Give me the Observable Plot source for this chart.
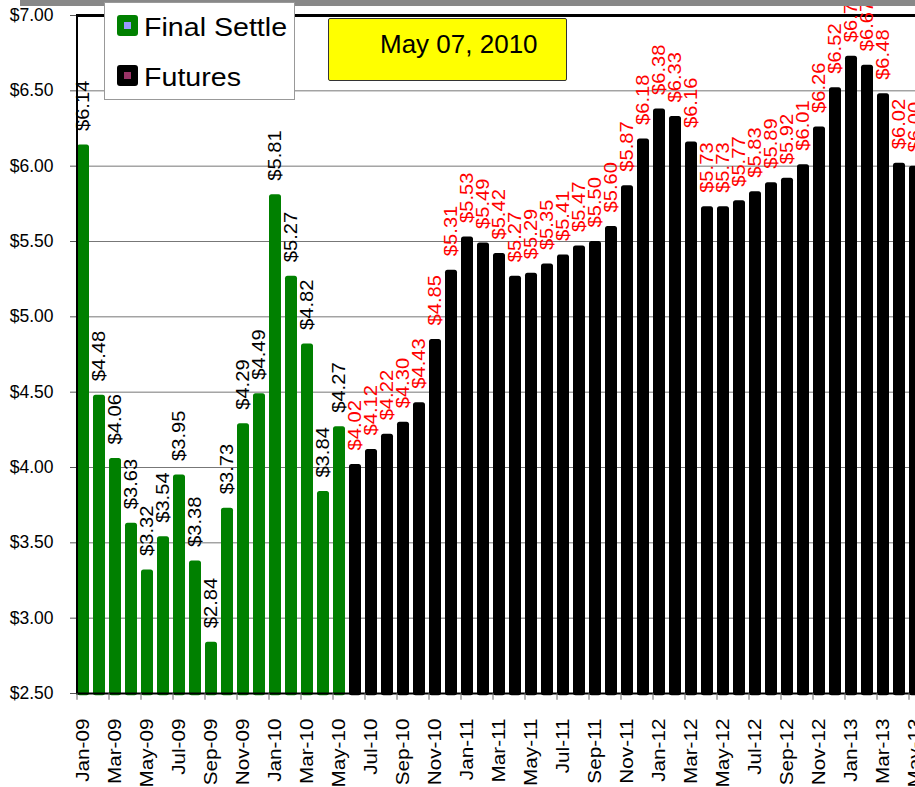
<!DOCTYPE html>
<html>
<head>
<meta charset="utf-8">
<script src="https://cdn.jsdelivr.net/npm/d3@7"></script>
<script src="https://cdn.jsdelivr.net/npm/@observablehq/plot@0.6"></script>
<style>
html, body { margin: 0; padding: 0; background: #fff; overflow: hidden; }
#wrap { position: relative; width: 915px; height: 787px; overflow: hidden; font-family: "Liberation Sans", Arial, sans-serif; }
#chart { position: absolute; left: 0; top: 0; }
#topbar { position: absolute; left: 20px; top: 0; width: 895px; height: 6px; background: #888; }
#legend { position: absolute; left: 104px; top: 2px; width: 189px; height: 96px; background: #fff; border: 1px solid #999; }
.item { position: absolute; left: 12px; height: 26px; font-size: 26px; line-height: 26px; color: #000; white-space: nowrap; }
.sw { position: absolute; left: 0; top: 1px; width: 21px; height: 21px; border-radius: 3px; }
.sw i { position: absolute; left: 7px; top: 7px; width: 7px; height: 7px; }
.lbl { position: absolute; left: 27px; top: 0; transform: scale(1.1, 1); transform-origin: 0 50%; }
#datebox { position: absolute; left: 328px; top: 18px; width: 237px; height: 61px; background: #ffff00; border: 1.5px solid #333; border-radius: 2px; }
#datebox span { position: absolute; left: 51px; top: 13px; font-size: 26px; line-height: 25px; color: #000; white-space: nowrap; }
</style>
</head>
<body>
<div id="wrap">
  <div id="chart"></div>
  <div id="topbar"></div>
  <div id="legend">
    <div class="item" style="top:11px"><div class="sw" style="background:#008000"><i style="background:#9999ff"></i></div><span class="lbl">Final Settle</span></div>
    <div class="item" style="top:61px"><div class="sw" style="background:#000"><i style="background:#993366"></i></div><span class="lbl">Futures</span></div>
  </div>
  <div id="datebox"><span>May 07, 2010</span></div>
</div>
<script>
const months = [
  "Jan-09","Feb-09","Mar-09","Apr-09","May-09","Jun-09","Jul-09","Aug-09","Sep-09","Oct-09","Nov-09","Dec-09",
  "Jan-10","Feb-10","Mar-10","Apr-10","May-10","Jun-10","Jul-10","Aug-10","Sep-10","Oct-10","Nov-10","Dec-10",
  "Jan-11","Feb-11","Mar-11","Apr-11","May-11","Jun-11","Jul-11","Aug-11","Sep-11","Oct-11","Nov-11","Dec-11",
  "Jan-12","Feb-12","Mar-12","Apr-12","May-12","Jun-12","Jul-12","Aug-12","Sep-12","Oct-12","Nov-12","Dec-12",
  "Jan-13","Feb-13","Mar-13","Apr-13","May-13"
];
const settleValues = [6.14, 4.48, 4.06, 3.63, 3.32, 3.54, 3.95, 3.38, 2.84, 3.73, 4.29, 4.49, 5.81, 5.27, 4.82, 3.84, 4.27];
const futuresValues = [
  4.02, 4.12, 4.22, 4.30, 4.43, 4.85, 5.31,
  5.53, 5.49, 5.42, 5.27, 5.29, 5.35, 5.41, 5.47, 5.50, 5.60, 5.87, 6.18,
  6.38, 6.33, 6.16, 5.73, 5.73, 5.77, 5.83, 5.89, 5.92, 6.01, 6.26, 6.52,
  6.73, 6.67, 6.48, 6.02, 6.00
];
const yTicks = [2.5, 3.0, 3.5, 4.0, 4.5, 5.0, 5.5, 6.0, 6.5, 7.0];
const xTickMonths = months.filter((d, i) => i % 2 === 0);

const settle = settleValues.map((v, i) => ({month: months[i], value: v}));
const futures = futuresValues.map((v, i) => ({month: months[i + settleValues.length], value: v}));
const money = d => "$" + d.value.toFixed(2);
const font = "'Liberation Sans', Arial, sans-serif";

const chart = Plot.plot({
  width: 915,
  height: 787,
  marginLeft: 76,
  marginRight: 0,
  marginTop: 15,
  marginBottom: 94,
  style: {fontFamily: font, background: "transparent", overflow: "hidden", color: "#000"},
  x: {type: "band", domain: months, range: [74.5, 922.5], paddingInner: 0.28, paddingOuter: 0.14, axis: null},
  y: {domain: [2.5, 7], axis: null},
  marks: [
    Plot.ruleY(yTicks.slice(1, -1), {stroke: "#777", strokeWidth: 1}),
    Plot.barY(settle, {x: "month", y1: 2.485, y2: "value", fill: "#008000", rx: 2.5}),
    Plot.barY(futures, {x: "month", y1: 2.485, y2: "value", fill: "#000000", rx: 2.5}),
    Plot.ruleY([2.5], {stroke: "#000", strokeWidth: 2}),
    Plot.ruleY([7], {stroke: "#000", strokeWidth: 3}),
    Plot.ruleX([months[0]], {dx: -6.5, y1: 2.5, y2: 7, stroke: "#000", strokeWidth: 2}),
    Plot.ruleX(xTickMonths, {dx: -6.5, y1: 2.5, y2: 2.455, stroke: "#666", strokeWidth: 1}),
    Plot.axisY(yTicks, {tickFormat: d => "$" + d.toFixed(2), tickSize: 6, tickPadding: 17, fontSize: 17.5, stroke: "#555", label: null}),
    Plot.axisX(xTickMonths, {tickRotate: -90, tickSize: 0, tickPadding: 25, fontSize: 18, label: null}),
    Plot.text(settle, {x: "month", y: "value", text: money, rotate: -90, textAnchor: "start", dy: -14, fill: "#000", fontSize: 18}),
    Plot.text(futures, {x: "month", y: "value", text: money, rotate: -90, textAnchor: "start", dy: -14, fill: "#ff0000", fontSize: 18})
  ]
});
document.getElementById("chart").appendChild(chart);

// Stretch rotated labels along their length to match the tall, narrow lettering of the original
d3.select(chart).selectAll('g[aria-label="text"] text').each(function() {
  const t = this.getAttribute("transform") || "";
  this.setAttribute("transform", t + " scale(1.12,1)");
});
d3.select(chart).selectAll('g[aria-label="x-axis tick label"] text').each(function() {
  const t = this.getAttribute("transform") || "";
  this.setAttribute("transform", t + " scale(1.15,1)");
});
</script>
</body>
</html>
